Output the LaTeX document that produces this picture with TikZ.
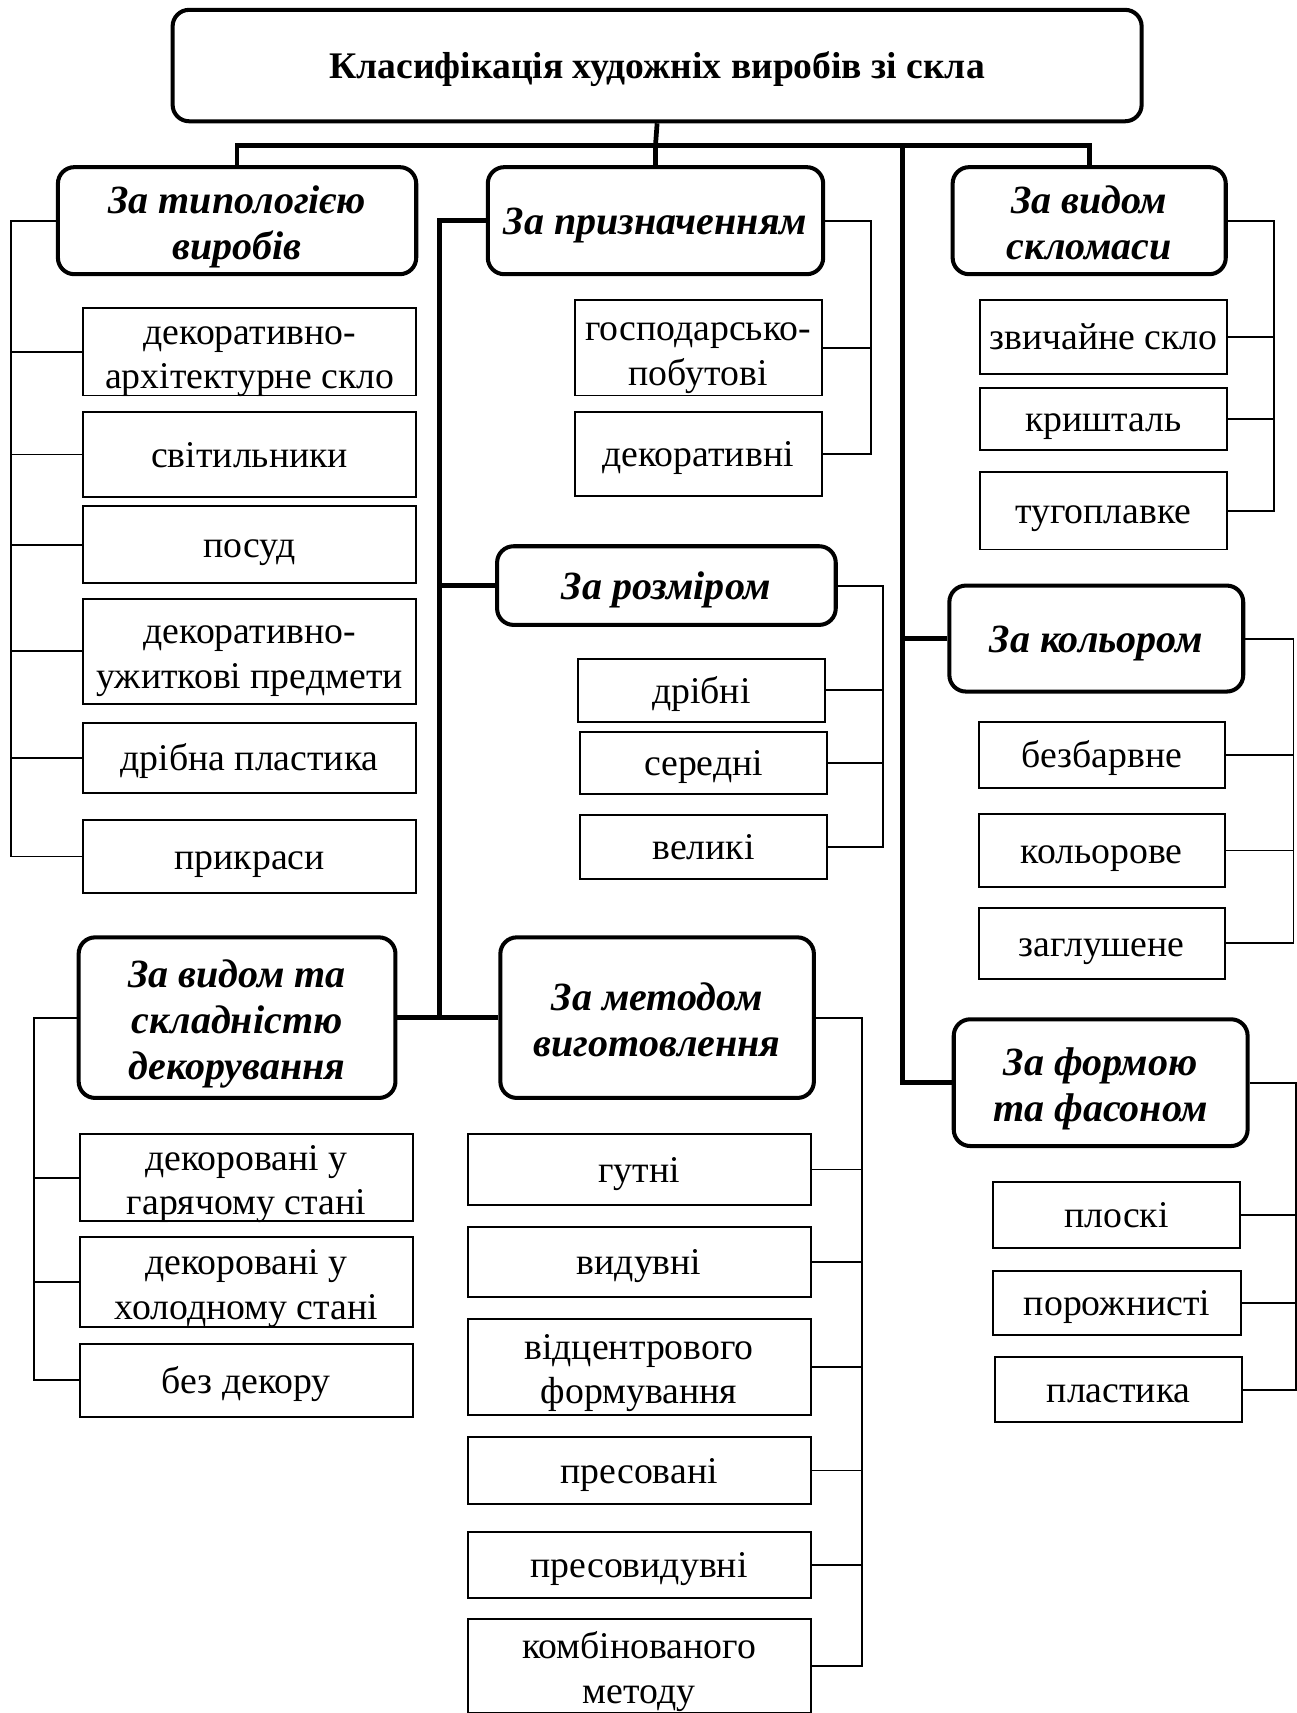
\documentclass[tikz,border=0pt]{standalone}
\usepackage{fontspec}
\setmainfont{Liberation Serif}
\usetikzlibrary{positioning}

\newcommand{\px}{0.02186cm}
\newcommand{\wstrut}{\vrule height 0.891em depth 0.216em width 0pt}
% first line of a two or three line box
\newcommand{\wtop}{\vrule height 0.79em depth 0pt width 0pt}

\tikzset{
  catbox/.style={draw, line width=2.3pt, rounded corners=0.33cm, align=center, inner sep=0pt,
    font=\fontsize{22.8}{26}\selectfont\bfseries\itshape,
    execute at begin node=\wstrut, execute at end node=\wstrut},
  itembox/.style={draw, line width=1.1pt, align=center, inner sep=0pt,
    font=\fontsize{21.5}{25.2}\selectfont,
    execute at begin node=\wstrut, execute at end node=\wstrut},
  multi/.style={text depth=0pt},
  sz/.style 2 args={minimum width=#1*\px, minimum height=#2*\px},
  mainline/.style={line width=2.7pt},
  subline/.style={line width=1.1pt}
}

\begin{document}
\begin{tikzpicture}[x=\px, y=-\px]
  \useasboundingbox (0,0) rectangle (1187,1568);

  % title
  \node[catbox, sz={887}{102}, font=\fontsize{21.4}{24}\selectfont\bfseries] (title) at (601.5,60)
    {Класифікація художніх виробів зі скла};

  % categories
  \node[catbox, multi, sz={328}{98}] (typ) at (217,202) {\wtop За типологією\\виробів};
  \node[catbox, sz={307}{98}] (pryz) at (600,202) {За призначенням};
  \node[catbox, multi, sz={250}{98}] (sklo) at (997,202) {\wtop За видом\\скломаси};
  \node[catbox, sz={310}{72}] (rozm) at (610,536) {За розміром};
  \node[catbox, sz={269}{97}] (kol) at (1003.5,584.5) {За кольором};
  \node[catbox, multi, sz={290}{147}] (dekor) at (217,931.5) {\wtop За видом та\\складністю\\декорування};
  \node[catbox, multi, sz={287}{147}] (metod) at (601.5,931.5) {\wtop За методом\\виготовлення};
  \node[catbox, multi, sz={269}{116}] (forma) at (1007.5,991) {\wtop За формою\\та фасоном};

  % items: typology
  \node[itembox, multi, sz={305}{80}] (t1) at (228.5,322) {\wtop декоративно-\\архітектурне скло};
  \node[itembox, sz={305}{77}] (t2) at (228.5,416) {світильники};
  \node[itembox, sz={305}{70}] (t3) at (228.5,498.5) {посуд};
  \node[itembox, multi, sz={305}{96}] (t4) at (228.5,596) {\wtop декоративно-\\ужиткові предмети};
  \node[itembox, sz={305}{64}] (t5) at (228.5,693.5) {дрібна пластика};
  \node[itembox, sz={305}{66}] (t6) at (228.5,784) {прикраси};

  % items: purpose
  \node[itembox, multi, sz={226}{87}] (p1) at (639,318.5) {\wtop господарсько-\\побутові};
  \node[itembox, sz={226}{77}] (p2) at (639,415.5) {декоративні};

  % items: size
  \node[itembox, sz={226}{58}] (r1) at (642,632) {дрібні};
  \node[itembox, sz={226}{57}] (r2) at (644,698.5) {середні};
  \node[itembox, sz={226}{59}] (r3) at (644,775.5) {великі};

  % items: glass mass
  \node[itembox, sz={226}{67}] (s1) at (1010,308.5) {звичайне скло};
  \node[itembox, sz={226}{57}] (s2) at (1010,383.5) {кришталь};
  \node[itembox, sz={226}{71}] (s3) at (1010,467.5) {тугоплавке};

  % items: colour
  \node[itembox, sz={225}{60}] (k1) at (1008.5,691) {безбарвне};
  \node[itembox, sz={225}{67}] (k2) at (1008.5,778.5) {кольорове};
  \node[itembox, sz={225}{65}] (k3) at (1008.5,863.5) {заглушене};

  % items: shape
  \node[itembox, sz={226}{60}] (f1) at (1022,1112) {плоскі};
  \node[itembox, sz={227}{59}] (f2) at (1022.5,1192.5) {порожнисті};
  \node[itembox, sz={226}{60}] (f3) at (1024,1272) {пластика};

  % items: decoration
  \node[itembox, multi, sz={305}{80}] (d1) at (225.5,1078) {\wtop декоровані у\\гарячому стані};
  \node[itembox, multi, sz={305}{83}] (d2) at (225.5,1173.5) {\wtop декоровані у\\холодному стані};
  \node[itembox, sz={305}{67}] (d3) at (225.5,1263.5) {без декору};

  % items: method
  \node[itembox, sz={314}{65}] (m1) at (585,1070.5) {гутні};
  \node[itembox, sz={314}{64}] (m2) at (585,1155) {видувні};
  \node[itembox, multi, sz={314}{88}] (m3) at (585,1251) {\wtop відцентрового\\формування};
  \node[itembox, sz={314}{62}] (m4) at (585,1346) {пресовані};
  \node[itembox, sz={314}{61}] (m5) at (585,1432.5) {пресовидувні};
  \node[itembox, multi, sz={314}{86}] (m6) at (585,1525) {\wtop комбінованого\\методу};

  % main connectors
  \coordinate (bar) at (600,133);
  \coordinate (rs) at (826,133);
  \coordinate (ls) at (402,931.5);
  \draw[mainline] (title.south) -- (bar);
  \draw[mainline] (typ.north) |- (bar) -| (sklo.north);
  \draw[mainline] (bar) -- (pryz.north);
  \draw[mainline] (rs) |- (forma.west);
  \draw[mainline] (kol.west) -- (kol.west -| rs);
  \draw[mainline] (pryz.west) -| (ls);
  \draw[mainline] (rozm.west) -- (rozm.west -| ls);
  \draw[mainline] (dekor.east) -- (metod.west);

  % brackets
  \coordinate (typS) at (10,0);
  \draw[subline] (typ.west) -| (typS |- t6.west) -- (t6.west);
  \foreach \i in {1,...,5} \draw[subline] (t\i.west) -- (t\i.west -| typS);

  \coordinate (pryzS) at (797,0);
  \draw[subline] (pryz.east) -| (pryzS |- p2.east) -- (p2.east);
  \draw[subline] (p1.east) -- (p1.east -| pryzS);

  \coordinate (rozmS) at (808,0);
  \draw[subline] (rozm.east) -| (rozmS |- r3.east) -- (r3.east);
  \foreach \i in {1,2} \draw[subline] (r\i.east) -- (r\i.east -| rozmS);

  \coordinate (skloS) at (1166,0);
  \draw[subline] (sklo.east) -| (skloS |- s3.east) -- (s3.east);
  \foreach \i in {1,2} \draw[subline] (s\i.east) -- (s\i.east -| skloS);

  \coordinate (kolS) at (1184,0);
  \draw[subline] (kol.east) -| (kolS |- k3.east) -- (k3.east);
  \foreach \i in {1,2} \draw[subline] (k\i.east) -- (k\i.east -| kolS);

  \coordinate (formaS) at (1186,0);
  \draw[subline] (forma.east) -| (formaS |- f3.east) -- (f3.east);
  \foreach \i in {1,2} \draw[subline] (f\i.east) -- (f\i.east -| formaS);

  \coordinate (dekorS) at (31,0);
  \draw[subline] (dekor.west) -| (dekorS |- d3.west) -- (d3.west);
  \foreach \i in {1,2} \draw[subline] (d\i.west) -- (d\i.west -| dekorS);

  \coordinate (metodS) at (789,0);
  \draw[subline] (metod.east) -| (metodS |- m6.east) -- (m6.east);
  \foreach \i in {1,...,5} \draw[subline] (m\i.east) -- (m\i.east -| metodS);
\end{tikzpicture}
\end{document}
